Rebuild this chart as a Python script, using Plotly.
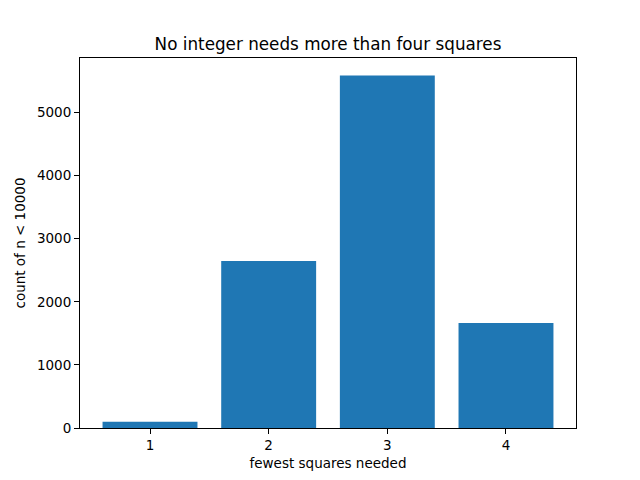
import plotly.graph_objects as go

categories = [1, 2, 3, 4]
counts = [99, 2649, 5586, 1665]
tick_labels = ["1", "2", "3", "4"]

fig = go.Figure(go.Bar(
    x=categories,
    y=counts,
    width=0.8,
    marker=dict(color="#1f77b4", line=dict(width=0)),
))

axis_common = dict(
    showline=True, linecolor="black", linewidth=1, mirror=True,
    ticks="outside", ticklen=5, tickcolor="black", showgrid=False, zeroline=False,
    tickfont=dict(size=13.5, color="black"),
)

fig.update_xaxes(
    range=[0.41, 4.59], tickvals=categories, ticktext=tick_labels,
    title=dict(text="fewest squares needed", font=dict(size=13.5, color="black"), standoff=6),
    **axis_common,
)
fig.update_yaxes(
    range=[0, 5865], tickvals=[0, 1000, 2000, 3000, 4000, 5000],
    title=dict(text="count of n < 10000", font=dict(size=13.5, color="black"), standoff=8),
    **axis_common,
)

# page body has an 8px margin, so shift the plot area up/left to line up
fig.update_layout(
    width=640, height=480,
    margin=dict(l=72, r=72, t=50, b=60),
    plot_bgcolor="white", paper_bgcolor="white",
    font=dict(family="DejaVu Sans", color="black"),
    title=dict(text="No integer needs more than four squares", x=0.5, xref="paper",
               y=1 - 36 / 480, yref="container", yanchor="middle",
               font=dict(size=16.8, color="black")),
    showlegend=False,
)

fig.write_html("out.html")
